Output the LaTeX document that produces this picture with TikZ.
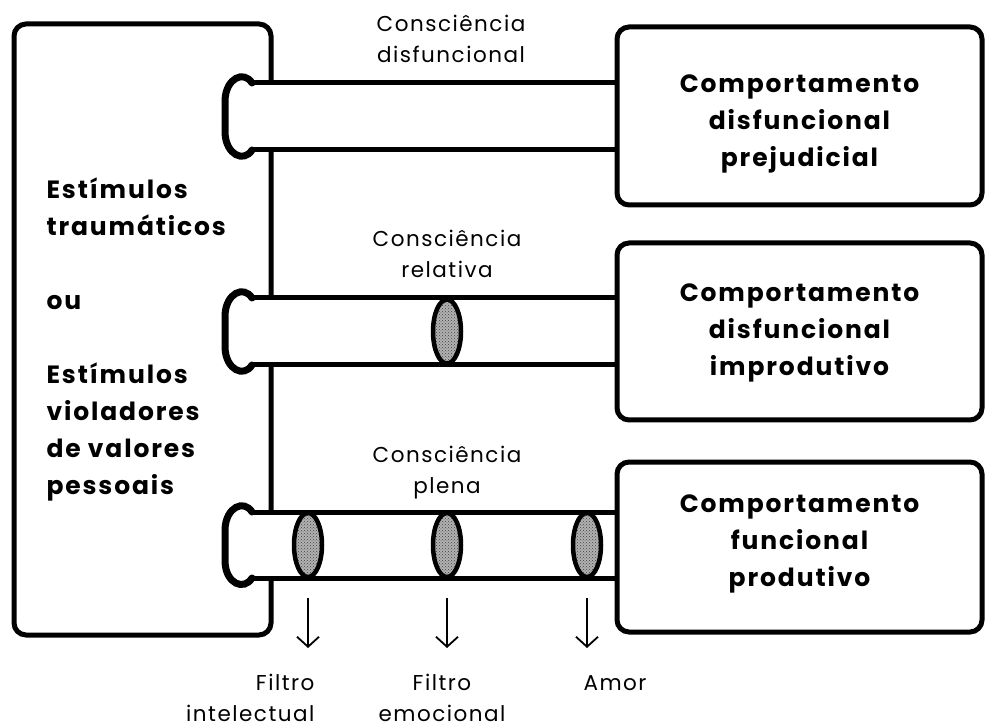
\documentclass[tikz,border=0pt]{standalone}
\usepackage{fontspec}
\setmainfont{Poppins}
\newfontfamily\negrito{Poppins}[UprightFont = * Bold, LetterSpace = 7.5]
\newfontfamily\leve{Poppins}[LetterSpace = 7]
\usetikzlibrary{shapes.geometric,arrows.meta,patterns}

\tikzset{
  caixa/.style = {draw, line width = 5pt, rounded corners = 12pt,
                  minimum width = 365pt},
  caixatxt/.style = {align = center, font = \negrito\fontsize{25}{37}\selectfont},
  tubo/.style = {line width = 5pt},
  tampa/.style = {line width = 7pt, line cap = round},
  filtro/.style = {ellipse, draw, line width = 4.5pt,
                   preaction = {fill = black!30},
                   pattern = crosshatch dots, pattern color = black!75,
                   minimum width = 28pt, minimum height = 64pt, inner sep = 0pt},
  rotulo/.style = {align = center, font = \leve\fontsize{21.5}{31}\selectfont},
  seta/.style = {line width = 1.8pt, -{Straight Barb[length = 10pt, width = 22pt]}}
}

\begin{document}
\begin{tikzpicture}[x = 1pt, y = -1pt]
            \useasboundingbox (0,0) rectangle (986,727);

            % caixas
            \node[caixa, minimum width = 257pt, minimum height = 611pt]
            (estimulos) at (142.5,329.5) {};
            \node[anchor = base west, align = left,
                  font = \negrito\fontsize{25}{37}\selectfont]
            (txtest) at (43,494)
            {Estímulos\\traumáticos\\[37pt]ou\\[37pt]Estímulos\\violadores\\de valores\\pessoais};

            \node[caixa, minimum height = 178pt] (prejudicial) at (799.5,116) {};
            \node[caixa, minimum height = 177pt] (improdutivo) at (799.5,331.5) {};
            \node[caixa, minimum height = 170pt] (produtivo) at (799.5,547) {};
            \node[caixatxt, anchor = base] (txtprej) at (799.5,167)
            {Comportamento\\disfuncional\\prejudicial};
            \node[caixatxt, anchor = base] (txtimpr) at (799.5,376)
            {Comportamento\\disfuncional\\improdutivo};
            \node[caixatxt, anchor = base] (txtprod) at (799.5,586)
            {Comportamento\\funcional\\produtivo};

            % tubo 1
            \coordinate (t1) at (252,83);
            \coordinate (b1) at (252,150);
            \fill[white] (232,83) rectangle ([xshift = -3pt]b1 -| prejudicial.west);
            \draw[tubo] (t1) -- (t1 -| prejudicial.west);
            \draw[tubo] (b1) -- (b1 -| prejudicial.west);
            \draw[tampa] (t1) .. controls (244,70) and (226,78) .. (225,100)
            -- (225,133) .. controls (226,155) and (244,163) .. (b1);

            % tubo 2
            \coordinate (t2) at (252,298);
            \coordinate (b2) at (252,365);
            \fill[white] (232,298) rectangle ([xshift = -3pt]b2 -| improdutivo.west);
            \draw[tubo] (t2) -- (t2 -| improdutivo.west);
            \draw[tubo] (b2) -- (b2 -| improdutivo.west);
            \draw[tampa] (t2) .. controls (244,285) and (226,293) .. (225,315)
            -- (225,348) .. controls (226,370) and (244,378) .. (b2);
            \node[filtro] (rel) at (447,331.5) {};

            % tubo 3
            \coordinate (t3) at (252,512);
            \coordinate (b3) at (252,578);
            \fill[white] (232,512) rectangle ([xshift = -3pt]b3 -| produtivo.west);
            \draw[tubo] (t3) -- (t3 -| produtivo.west);
            \draw[tubo] (b3) -- (b3 -| produtivo.west);
            \draw[tampa] (t3) .. controls (244,499) and (226,507) .. (225,529)
            -- (225,562) .. controls (226,584) and (244,591) .. (b3);
            \node[filtro] (intel) at (308,545) {};
            \node[filtro] (emoc) at (447,545) {};
            \node[filtro] (amor) at (587,545) {};

            % rotulos (base = ultima linha)
            \node[rotulo, anchor = base] (cdisf) at (451,63) {Consciência\\disfuncional};
            \node[rotulo, anchor = base] (crel) at (447,278) {Consciência\\relativa};
            \node[rotulo, anchor = base] (cplena) at (447,493) {Consciência\\plena};

            % setas
            \coordinate (s1) at (308,598);
            \coordinate (e1) at (308,648);
            \coordinate (s2) at (447,598);
            \coordinate (e2) at (447,648);
            \coordinate (s3) at (587,598);
            \coordinate (e3) at (587,648);
            \draw[seta] (s1) -- (e1);
            \draw[seta] (s2) -- (e2);
            \draw[seta] (s3) -- (e3);

            \node[rotulo, anchor = base east, align = right] (fint) at (318,721)
            {Filtro\\intelectual};
            \node[rotulo, anchor = base] (femo) at (442,721) {Filtro\\emocional};
            \node[rotulo, anchor = base west] (famor) at (580,690) {Amor};
        \end{tikzpicture}
\end{document}
